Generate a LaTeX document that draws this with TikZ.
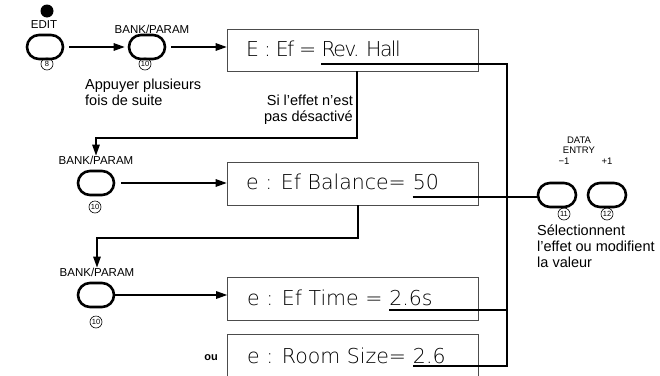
\documentclass[tikz,border=0pt]{standalone}
\usepackage{fontspec}
\setmainfont{Liberation Sans}
\newfontfamily\lcd{DejaVu Sans}[UprightFont={* ExtraLight}]
\newfontfamily\lcdtight{DejaVu Sans}[UprightFont={* ExtraLight},LetterSpace=-8]
\usetikzlibrary{arrows.meta}
\begin{document}
\begin{tikzpicture}[x=1pt,y=-1pt,
  btn/.style={draw,line width=2.6pt,rounded corners=12pt,minimum width=36pt,minimum height=24pt,inner sep=0pt},
  lbl/.style={font=\fontsize{11.5}{12}\selectfont,inner sep=0pt},
  slbl/.style={font=\fontsize{9.5}{10.5}\selectfont,inner sep=0pt},
  num/.style={circle,draw,line width=0.6pt,inner sep=0pt,minimum size=12pt,font=\fontsize{7.5}{7.5}\selectfont},
  disp/.style={draw=black!70,line width=0.6pt,minimum width=251pt,inner sep=0pt},
  lcdtxt/.style={font=\lcd\fontsize{20.5}{20.5}\selectfont,text=black,inner sep=0pt,anchor=base west},
  lcdtxtt/.style={lcdtxt,font=\lcdtight\fontsize{20.5}{20.5}\selectfont},
  note/.style={font=\fontsize{14.5}{16}\selectfont,inner sep=0pt,align=left},
  conn/.style={line width=1.4pt},
  arr/.style={conn,-{Triangle[length=11pt,width=7.5pt]}}]
\useasboundingbox (0,0) rectangle (660,375);

% top row
\fill (47,11) circle (6.5pt);
\node[lbl] (edit) at (44,25) {EDIT};
\node[btn] (e1) at (45,47) {};
\node[num] (n8) at (47,64) {8};
\node[lbl] (L1) at (152,29) {BANK/PARAM};
\node[btn] (b1) at (147,47) {};
\node[num] (n10a) at (145,64) {10};
\node[note,anchor=north west] (app) at (85,79) {Appuyer plusieurs\\fois de suite};

\node[disp,minimum height=42pt] (box1) at (352.5,50) {};
\node[lcdtxtt] (t1) at (246,56) {E : Ef =\hbox{\ }};
\node[lcdtxtt] (v1) at (t1.base east) {Rev. Hall};

\draw[arr,shorten <=5pt,shorten >=3pt] (e1) -- (b1);
\draw[arr,shorten <=5pt] (b1) -- (box1.west |- b1);

\node[note,anchor=north east,align=right] (si) at (353,95) {Si l'effet n'est\\pas désactivé};

% second row
\node[lbl] (L2) at (96,160) {BANK/PARAM};
\node[btn] (b2) at (96,183) {};
\node[num] (n10b) at (95,207) {10};
\node[disp,minimum height=43pt] (box2) at (352.5,183.5) {};
\node[lcdtxt] (t2) at (246,189) {e : Ef Balance=\hbox{\ }};
\node[lcdtxt] (v2) at (t2.base east) {50};
\draw[arr,shorten <=6pt] (b2.east) -- (b2.east -| box2.west);

% third row
\node[lbl] (L3) at (97,272) {BANK/PARAM};
\node[btn] (b3) at (96,295) {};
\node[num] (n10c) at (96,322) {10};
\node[disp,minimum height=43pt] (box3) at (353,298.5) {};
\node[lcdtxt] (t3) at (247,305) {e : Ef Time =\hbox{\ }};
\node[lcdtxt] (v3) at (t3.base east) {2.6s};
\draw[arr] (b3.east) -- (b3.east -| box3.west);

% fourth row
\node[disp,minimum height=46pt] (box4) at (353,357) {};
\node[font=\bfseries\fontsize{11}{12}\selectfont,inner sep=0pt] (ou) at (211,358) {ou};
\node[lcdtxt] (t4) at (247,363) {e : Room Size=\hbox{\ }};
\node[lcdtxt] (v4) at (t4.base east) {2.6};

% data entry
\node[slbl,align=center] (de) at (579,145) {DATA\\ENTRY};
\node[slbl] (m1) at (564,161) {−1};
\node[slbl] (p1) at (607,161) {+1};
\node[btn,minimum width=38pt,minimum height=24pt] (d1) at (557,195) {};
\node[btn,minimum width=38pt,minimum height=24pt] (d2) at (607,195) {};
\node[num] (n11) at (564,214) {11};
\node[num] (n12) at (607,214) {12};
\node[note,anchor=north west] (sel) at (537,225) {Sélectionnent\\l'effet ou modifient\\la valeur};

% connectors
\coordinate (bus) at (507,0);
\coordinate (u1) at ([yshift=-8pt]v1.base west);
\coordinate (u2) at ([yshift=-8pt]v2.base west);
\coordinate (u3) at ([yshift=-5pt]v3.base west);
\coordinate (u4) at ([yshift=-3pt]v4.base west);
\draw[conn] (u1) -- (u1 -| bus) -- (u4 -| bus) -- (u4);
\draw[conn] (u2) -- (u2 -| d1.west);
\draw[conn] (u3) -- (u3 -| bus);

\coordinate (k1) at (357,138);
\coordinate (k2) at (358,238);
\draw[arr] (box1.south -| k1) -- (k1) -| (L2.north);
\draw[arr] (box2.south -| k2) -- (k2) -| (L3.north);
\end{tikzpicture}
\end{document}
